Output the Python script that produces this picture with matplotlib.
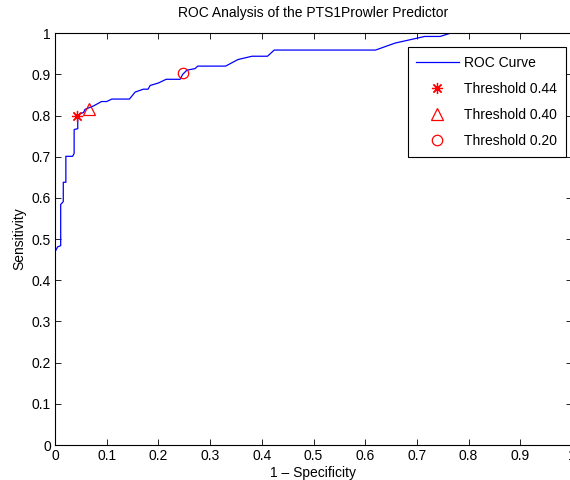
import matplotlib
matplotlib.use("Agg")
import matplotlib.pyplot as plt
import numpy as np

plt.rcParams['font.family'] = ['Liberation Sans', 'DejaVu Sans']

# ROC curve vertices (1 - specificity, sensitivity)
fpr = [0.0, 0.0, 0.005, 0.011, 0.011, 0.016, 0.016, 0.021, 0.021, 0.034, 0.037, 0.037,
       0.044, 0.044, 0.048, 0.055, 0.058, 0.074, 0.090, 0.100, 0.110, 0.144, 0.155,
       0.171, 0.180, 0.184, 0.200, 0.215, 0.242, 0.247, 0.255, 0.271, 0.276, 0.330,
       0.354, 0.381, 0.411, 0.424, 0.620, 0.658, 0.715, 0.745, 0.765, 1.0]
tpr = [0.0, 0.469, 0.481, 0.484, 0.584, 0.591, 0.638, 0.638, 0.701, 0.701, 0.708, 0.766,
       0.768, 0.797, 0.805, 0.807, 0.815, 0.823, 0.834, 0.834, 0.840, 0.840, 0.857,
       0.864, 0.864, 0.873, 0.879, 0.888, 0.888, 0.900, 0.910, 0.914, 0.920, 0.920,
       0.936, 0.944, 0.944, 0.959, 0.959, 0.976, 0.992, 0.992, 1.0, 1.0]

thr_labels = ['Threshold 0.44', 'Threshold 0.40', 'Threshold 0.20']
thr_x = [0.043, 0.066, 0.247]
thr_y = [0.800, 0.817, 0.904]
thr_markers = [(8, 2, 0), '^', 'o']

fs = 10

fig = plt.figure(figsize=(5.7, 4.8), dpi=100)
ax = fig.add_axes([0.0965, 0.0729, 0.907, 0.858])

ax.plot(fpr, tpr, color='blue', linewidth=0.9, label='ROC Curve')
for lbl, xx, yy, mk in zip(thr_labels, thr_x, thr_y, thr_markers):
    ax.plot([xx], [yy], linestyle='none', marker=mk, color='red',
            markerfacecolor='none', markersize=8 if mk != 'o' else 7.5,
            markeredgewidth=0.9, label=lbl)

ax.set_xlim(0, 1)
ax.set_ylim(0, 1)
ticks = np.arange(0, 1.01, 0.1)
ticklabels = ['0'] + ['%.1f' % t for t in ticks[1:-1]] + ['1']
ax.set_xticks(ticks)
ax.set_xticklabels(ticklabels)
ax.set_yticks(ticks)
ax.set_yticklabels(ticklabels)
ax.tick_params(direction='in', top=True, right=True, length=4, width=0.6,
               labelsize=fs, pad=3)
for sp in ax.spines.values():
    sp.set_linewidth(0.8)

ax.set_title('ROC Analysis of the PTS1Prowler Predictor', fontsize=fs, pad=12)
ax.set_xlabel('1 \u2013 Specificity', fontsize=fs, labelpad=2)
ax.set_ylabel('Sensitivity', fontsize=fs, labelpad=4)

leg = ax.legend(loc='upper right', bbox_to_anchor=(0.988, 0.966), fontsize=fs,
                fancybox=False, framealpha=1, edgecolor='black', handlelength=3.1,
                labelspacing=0.88, borderpad=0.6, handletextpad=0.4,
                borderaxespad=0)
leg.get_frame().set_linewidth(0.8)

fig.savefig('out.png', dpi=100)
